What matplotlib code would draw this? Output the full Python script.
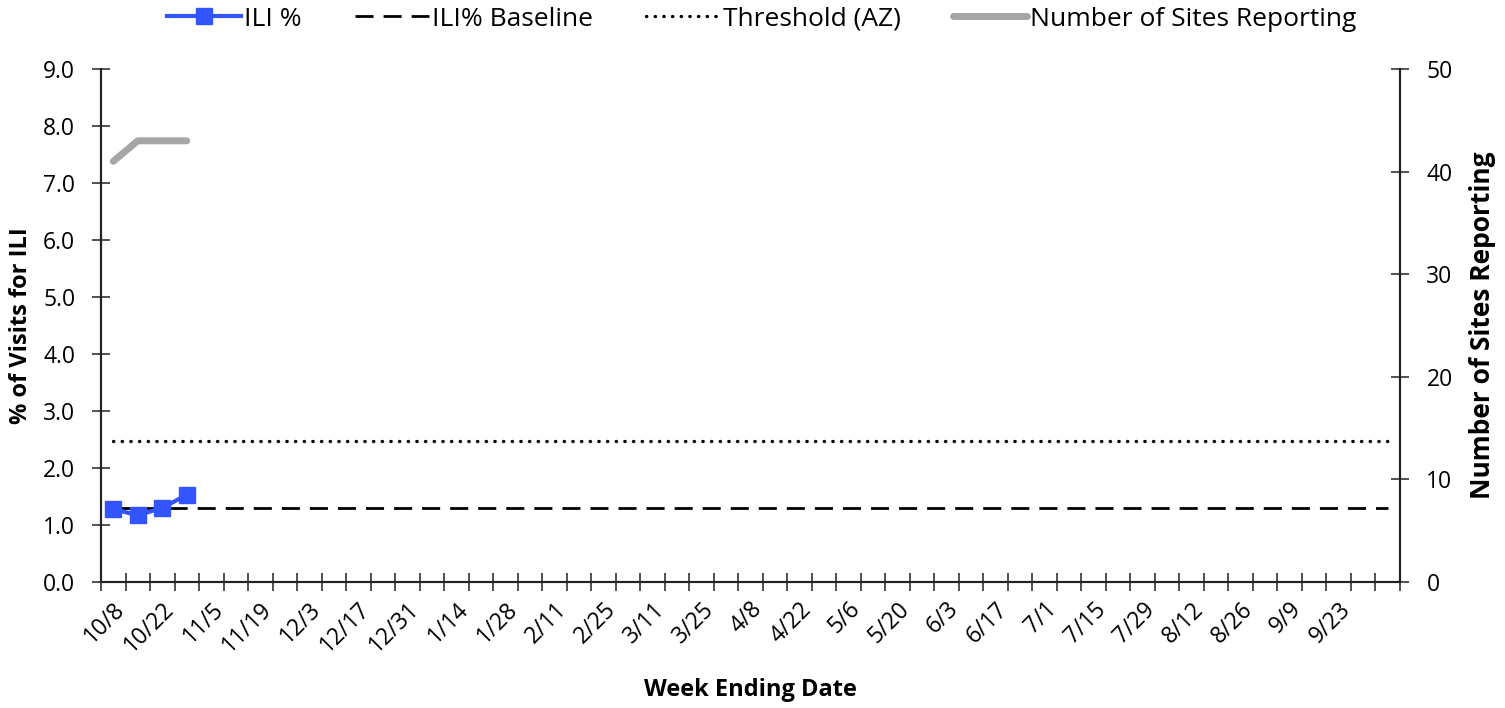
import matplotlib
matplotlib.use("Agg")
import matplotlib.pyplot as plt
from matplotlib.lines import Line2D
import numpy as np

plt.rcParams['font.family'] = ['Open Sans', 'DejaVu Sans']

all_weeks = ["10/8", "10/15", "10/22", "10/29", "11/5", "11/12", "11/19", "11/26", "12/3", "12/10",
             "12/17", "12/24", "12/31", "1/7", "1/14", "1/21", "1/28", "2/4", "2/11", "2/18",
             "2/25", "3/4", "3/11", "3/18", "3/25", "4/1", "4/8", "4/15", "4/22", "4/29",
             "5/6", "5/13", "5/20", "5/27", "6/3", "6/10", "6/17", "6/24", "7/1", "7/8",
             "7/15", "7/22", "7/29", "8/5", "8/12", "8/19", "8/26", "9/2", "9/9", "9/16",
             "9/23", "9/30", ""]
ili_pct = [1.28, 1.17, 1.30, 1.53]
sites_reporting = [41, 43, 43, 43]
baseline = 1.3
threshold = 2.47

n = len(all_weeks)
x = np.arange(n)

BLUE = '#3355ff'
GRAY = '#a6a6a6'
DASH = (6.5, 3.6)
DOT = (0, (0.1, 2.5))

fig = plt.figure(figsize=(15.05, 7.08), dpi=100)
ax = fig.add_axes([101/1505, 1 - 582/708, 1299/1505, 513/708])
ax2 = ax.twinx()

ax.plot(x, [baseline]*n, color='black', lw=2, dashes=DASH, zorder=3)
ax.plot(x, [threshold]*n, color='black', lw=2.4, linestyle=DOT, dash_capstyle='round', zorder=3)
ax.plot(x[:len(ili_pct)], ili_pct, color=BLUE, lw=3, marker='s', markersize=11, zorder=4)
ax2.plot(x[:len(sites_reporting)], sites_reporting, color=GRAY, lw=5, solid_capstyle='round')

ax.set_zorder(ax2.get_zorder() + 1)
ax.patch.set_visible(False)

ax.set_xlim(-0.5, n - 0.5)
ax.set_ylim(0, 9)
ax2.set_ylim(0, 50)
yt = np.arange(0, 9.01, 1)
ax.set_yticks(yt)
ax.set_yticklabels([f"{v:.1f}" for v in yt])
ax2.set_yticks(np.arange(0, 51, 10))

ax.set_xticks(np.arange(-0.5, n, 1), minor=False)
ax.set_xticklabels([])
ax.set_xticks(x[::2], minor=True)
ax.set_xticklabels([all_weeks[i] for i in x[::2]], minor=True, rotation=45, ha='right',
                   rotation_mode='anchor', fontsize=16.5)
ax.tick_params(axis='x', which='minor', length=0, pad=11)
ax.tick_params(axis='x', which='major', direction='inout', length=13, width=1.2, color='#333333')
ax.tick_params(axis='y', direction='inout', length=13, width=1.2, labelsize=16.5, pad=12, color='#333333')
ax2.tick_params(axis='y', direction='inout', length=13, width=1.2, labelsize=16.5, pad=12.5, color='#333333')

for a in (ax, ax2):
    a.spines['top'].set_visible(False)
    for s in ('left', 'right', 'bottom'):
        a.spines[s].set_linewidth(1.5)
        a.spines[s].set_color('#222222')

ax.set_ylabel("% of Visits for ILI", fontsize=17, fontweight='bold')
ax.yaxis.set_label_coords(-0.052, 0.5)
ax2.set_ylabel("Number of Sites Reporting", fontsize=19, fontweight='bold')
ax2.yaxis.set_label_coords(1.053, 0.5)
ax.set_xlabel("Week Ending Date", fontsize=17, fontweight='bold')
ax.xaxis.set_label_coords(0.5, -0.187)

handles = [
    Line2D([], [], color=BLUE, lw=3, marker='s', markersize=11),
    Line2D([], [], color='black', lw=2, dashes=DASH),
    Line2D([], [], color='black', lw=2.4, linestyle=DOT, dash_capstyle='round'),
    Line2D([], [], color=GRAY, lw=5, solid_capstyle='round'),
]
labels = ["ILI %", "ILI% Baseline", "Threshold (AZ)", "Number of Sites Reporting"]
fig.legend(handles, labels, loc='center', bbox_to_anchor=(762/1505, 1 - 19/708), ncol=4,
           frameon=False, fontsize=19, handlelength=2.8, handletextpad=0.12, columnspacing=2.0)

fig.savefig("out.png", dpi=100)
